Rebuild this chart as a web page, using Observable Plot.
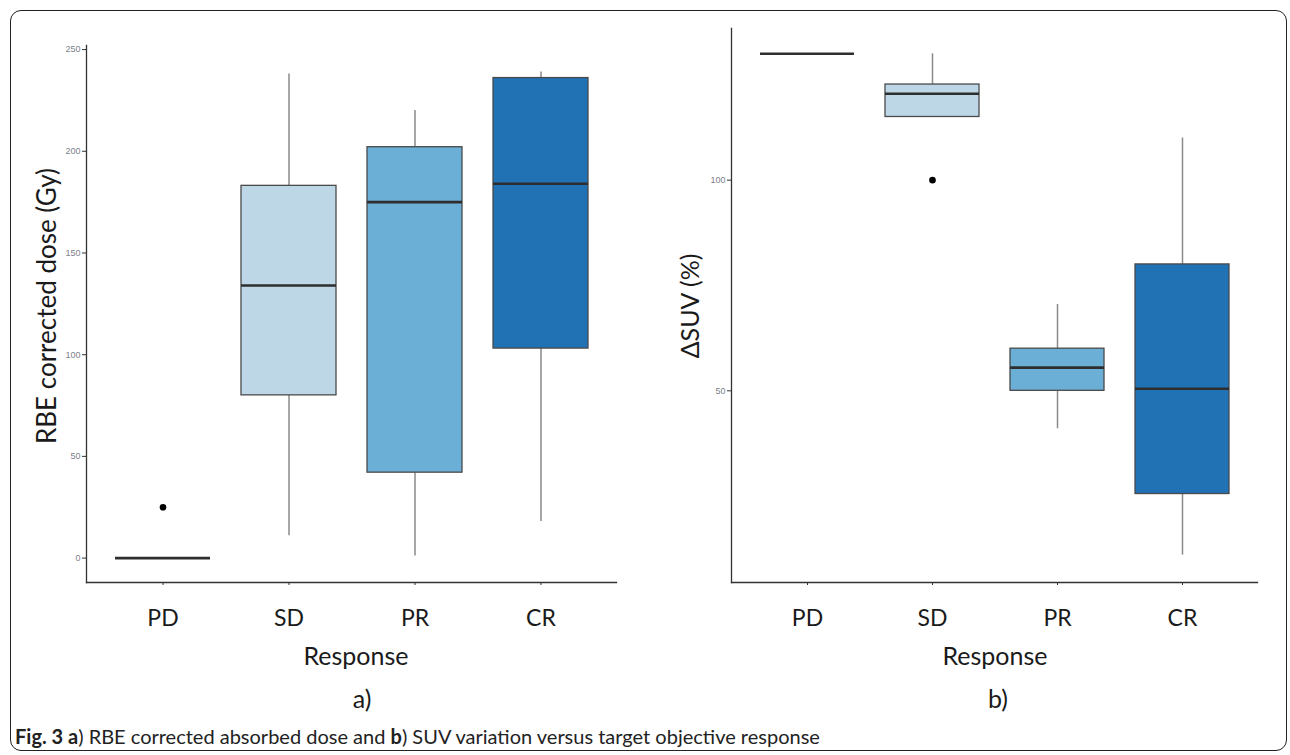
<!DOCTYPE html>
<html>
<head>
<meta charset="utf-8">
<script src="https://cdn.jsdelivr.net/npm/d3@7"></script>
<script src="https://cdn.jsdelivr.net/npm/@observablehq/plot@0.6"></script>
<style>
  html, body { margin: 0; padding: 0; background: #fff; }
  #page { position: relative; width: 1290px; height: 755px; overflow: hidden; background: #fff; font-family: Lato, "Open Sans", sans-serif; }
  #border { position: absolute; left: 10px; top: 10px; width: 1277px; height: 741px; border: 1.6px solid #222; border-radius: 11px; box-sizing: border-box; }
  .panel { position: absolute; top: 0; }
  .lbl { position: absolute; font-family: Lato, "Open Sans", sans-serif; color: #1a1a1a; line-height: 1; white-space: nowrap; transform: translate(-50%, -50%); }
  .ylbl { position: absolute; font-family: Lato, "Open Sans", sans-serif; color: #1a1a1a; line-height: 1; white-space: nowrap; transform: translate(-50%, -50%) rotate(-90deg); }
  #caption { position: absolute; left: 15px; top: 725px; font-family: Lato, "Open Sans", sans-serif; font-size: 20px; line-height: 23px; color: #222; white-space: nowrap; }
</style>
</head>
<body>
<div id="page">
  <div id="border"></div>
  <div id="left" class="panel" style="left:0px"></div>
  <div id="right" class="panel" style="left:640px"></div>
  <div class="ylbl" style="left:46px; top:306px; font-size:26px;">RBE corrected dose (Gy)</div>
  <div class="ylbl" style="left:689px; top:306px; font-size:25px;">ΔSUV (%)</div>
  <div class="lbl" style="left:356px; top:655px; font-size:25px;">Response</div>
  <div class="lbl" style="left:995px; top:655px; font-size:25px;">Response</div>
  <div class="lbl" style="left:362px; top:698px; font-size:25px;">a)</div>
  <div class="lbl" style="left:998px; top:698px; font-size:25px;">b)</div>
  <div id="caption"><b>Fig. 3 a</b>) RBE corrected absorbed dose and <b>b</b>) SUV variation versus target objective response</div>
</div>
<script>
// ---- Data ----
const categories = ["PD", "SD", "PR", "CR"];
const boxColors = ["#eff3ff", "#bdd7e7", "#6baed6", "#2171b5"];

// a) RBE corrected dose (Gy)
const doseMin    = [0,  11,   1,  18];
const doseQ1     = [0,  80,  42, 103];
const doseMedian = [0, 134, 175, 184];
const doseQ3     = [0, 183, 202, 236];
const doseMax    = [0, 238, 220, 239];
const doseOutlierCat   = ["PD"];
const doseOutlierValue = [25];
const doseTicks = [0, 50, 100, 150, 200, 250];

// b) ΔSUV (%)
const suvMin    = [130, 115,  41,  11];
const suvQ1     = [130, 115,  50,  25.5];
const suvMedian = [130, 120.5, 55.5, 50.5];
const suvQ3     = [130, 122.7, 60,  80];
const suvMax    = [130, 130,  70.5, 110];
const suvOutlierCat   = ["SD"];
const suvOutlierValue = [100];
const suvTicks = [50, 100];

function buildRows(mins, q1s, meds, q3s, maxs) {
  return categories.map((c, i) => ({cat: c, min: mins[i], q1: q1s[i], med: meds[i], q3: q3s[i], max: maxs[i]}));
}

function boxPanel({rows, outCats, outVals, yDomain, ticks, marginLeft, marginRight, marginTop, marginBottom, width, height}) {
  const outliers = outCats.map((c, i) => ({cat: c, v: outVals[i]}));
  const boxes = rows.filter(d => d.q3 > d.q1);
  return Plot.plot({
    width, height, marginLeft, marginRight, marginTop, marginBottom,
    style: {background: "transparent", overflow: "visible"},
    x: {domain: categories, paddingInner: 0.25, paddingOuter: 0.225, label: null},
    y: {domain: yDomain, label: null},
    color: {domain: categories, range: boxColors},
    marks: [
      Plot.frame({anchor: "left", stroke: "#333", strokeWidth: 1.3}),
      Plot.frame({anchor: "bottom", stroke: "#333", strokeWidth: 1.3}),
      Plot.axisY({ticks, tickSize: 4, tickPadding: 2, stroke: "#333", fill: "#7a7f8a", fontSize: 9, fontFamily: "Arial, Liberation Sans, sans-serif", label: null}),
      Plot.axisX({tickSize: 3, tickPadding: 24, stroke: "#333", fill: "#1a1a1a", fontSize: 23, fontFamily: "Lato, Open Sans, sans-serif", label: null}),
      Plot.ruleX(rows, {x: "cat", y1: "min", y2: "q1", stroke: "#8a8a8a", strokeWidth: 1.5}),
      Plot.ruleX(rows, {x: "cat", y1: "q3", y2: "max", stroke: "#8a8a8a", strokeWidth: 1.5}),
      Plot.barY(boxes, {x: "cat", y1: "q1", y2: "q3", fill: "cat", stroke: "#4a4a4a", strokeWidth: 1.3}),
      Plot.tickY(rows, {x: "cat", y: "med", stroke: "#2e2e2e", strokeWidth: 2.6}),
      Plot.dot(outliers, {x: "cat", y: "v", r: 3.3, fill: "#000", stroke: null})
    ]
  });
}

document.getElementById("left").appendChild(boxPanel({
  rows: buildRows(doseMin, doseQ1, doseMedian, doseQ3, doseMax),
  outCats: doseOutlierCat, outVals: doseOutlierValue,
  yDomain: [-12, 252], ticks: doseTicks,
  width: 640, height: 700, marginLeft: 86, marginRight: 24, marginTop: 45, marginBottom: 118
}));

document.getElementById("right").appendChild(boxPanel({
  rows: buildRows(suvMin, suvQ1, suvMedian, suvQ3, suvMax),
  outCats: suvOutlierCat, outVals: suvOutlierValue,
  yDomain: [4.5, 136], ticks: suvTicks,
  width: 640, height: 700, marginLeft: 91, marginRight: 23, marginTop: 28, marginBottom: 118
}));
</script>
</body>
</html>
